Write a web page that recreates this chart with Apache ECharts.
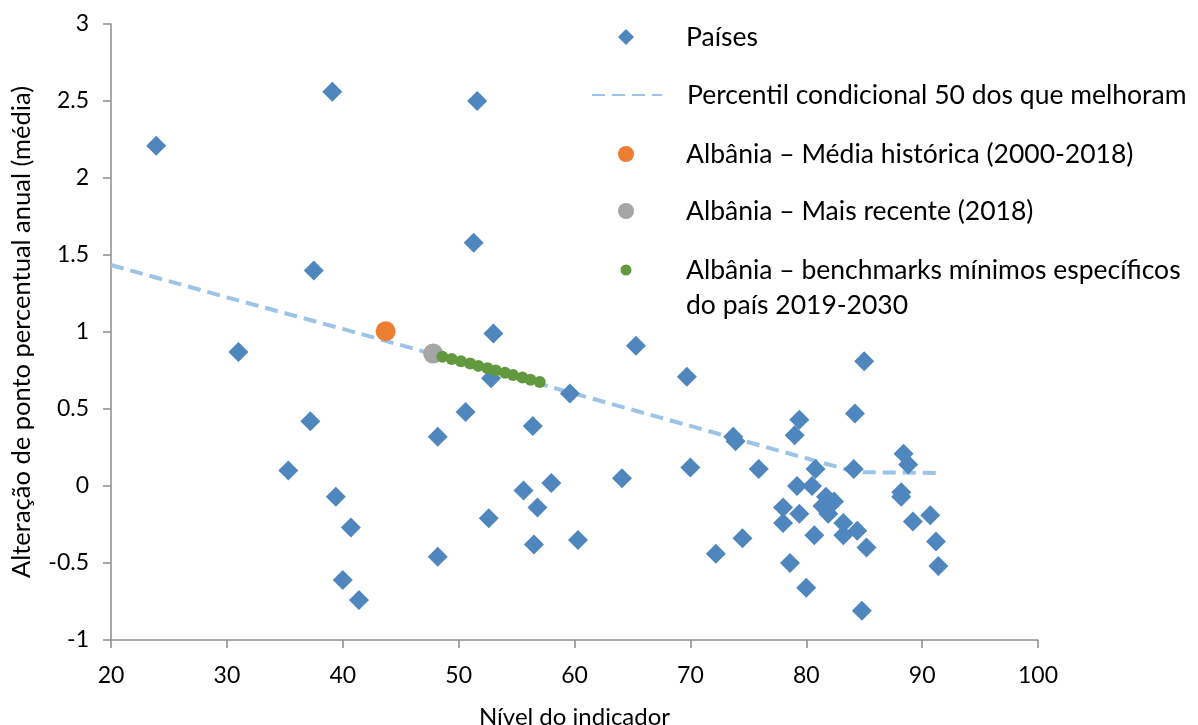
<!DOCTYPE html>
<html><head><meta charset="utf-8">
<script src="https://cdn.jsdelivr.net/npm/echarts@6/dist/echarts.min.js"></script>
<style>html,body{margin:0;padding:0;background:#fff}#c{width:1198px;height:725px}</style>
</head><body><div id="c"></div>
<script>
const paisesX = [23.9,39.1,51.6,51.3,37.5,31.0,53.0,65.3,52.8,59.6,69.7,50.6,56.4,37.2,48.2,35.3,39.4,70.0,64.1,58.0,55.6,40.7,52.6,56.8,56.5,60.3,48.2,40.0,41.4,73.7,73.9,85.0,84.2,79.4,79.0,75.9,80.8,84.1,88.4,88.8,79.2,80.5,81.7,82.4,81.4,81.9,88.2,88.2,78.0,78.0,79.4,83.2,83.2,84.4,85.2,80.7,90.7,89.2,91.2,91.4,74.5,72.2,78.6,80.0,84.8];
const paisesY = [2.21,2.56,2.50,1.58,1.40,0.87,0.99,0.91,0.70,0.60,0.71,0.48,0.39,0.42,0.32,0.10,-0.07,0.12,0.05,0.02,-0.03,-0.27,-0.21,-0.14,-0.38,-0.35,-0.46,-0.61,-0.74,0.32,0.29,0.81,0.47,0.43,0.33,0.11,0.11,0.11,0.21,0.14,0.00,0.00,-0.07,-0.10,-0.13,-0.18,-0.04,-0.07,-0.14,-0.24,-0.18,-0.24,-0.32,-0.29,-0.40,-0.32,-0.19,-0.23,-0.36,-0.52,-0.34,-0.44,-0.50,-0.66,-0.81];
const percentilX = [20,30,40,50,60,70,80,84.3,91.2];
const percentilY = [1.435,1.225,1.02,0.81,0.60,0.39,0.18,0.09,0.085];
const mediaHistX = [43.7];
const mediaHistY = [1.005];
const recenteX = [47.8];
const recenteY = [0.86];
const benchX = [48.6,49.4,50.2,51.0,51.7,52.5,53.2,54.0,54.7,55.5,56.2,57.0];
const benchY = [0.84,0.825,0.81,0.795,0.78,0.765,0.75,0.735,0.72,0.705,0.69,0.675];
const xTicks = [20,30,40,50,60,70,80,90,100];
const yTicks = [-1,-0.5,0,0.5,1,1.5,2,2.5,3];
const names = ['Países','Percentil condicional 50 dos que melhoram','Albânia – Média histórica (2000-2018)','Albânia – Mais recente (2018)','Albânia – benchmarks mínimos específicos do país 2019-2030'];
const legendLabels = ['Países','Percentil condicional 50 dos que melhoram','Albânia – Média histórica (2000-2018)','Albânia – Mais recente (2018)','\nAlbânia – benchmarks mínimos específicos\ndo país 2019-2030'];

const zip = (a,b) => a.map((v,i)=>[v,b[i]]);
const FONT = 'Lato';
const txt = {fontFamily: FONT, fontSize: 26.5, color: '#000'};

function legendItem(idx, left, top, w, h, padLeft, lh, extra) {
  return Object.assign({
    show: true, selectedMode: false, padding: 0,
    left: left, top: top, itemWidth: w, itemHeight: h,
    data: [names[idx]],
    formatter: () => legendLabels[idx],
    textStyle: Object.assign({}, txt, {lineHeight: lh, padding: [0,0,0,padLeft]})
  }, extra || {});
}

const chart = echarts.init(document.getElementById('c'));
chart.setOption({
  animation: false,
  backgroundColor: '#fff',
  grid: {left: 111, right: 160, top: 24, bottom: 85, containLabel: false, outerBoundsMode: 'none'},
  xAxis: {
    type: 'value', min: xTicks[0], max: xTicks[xTicks.length-1], interval: 10,
    name: 'Nível do indicador', nameLocation: 'middle', nameGap: 65,
    nameTextStyle: {fontFamily: FONT, fontSize: 24, color: '#000'},
    axisLine: {show: true, onZero: false, lineStyle: {color: '#8c8c8c', width: 1.5}},
    axisTick: {show: true, length: 8, lineStyle: {color: '#8c8c8c', width: 1.5}},
    axisLabel: {fontFamily: FONT, fontSize: 23, color: '#000', margin: 24},
    splitLine: {show: false}
  },
  yAxis: {
    type: 'value', min: yTicks[0], max: yTicks[yTicks.length-1], interval: 0.5,
    name: 'Alteração de ponto percentual anual (média)', nameLocation: 'middle', nameGap: 76,
    nameTextStyle: {fontFamily: FONT, fontSize: 25.5, color: '#000'},
    axisLine: {show: true, lineStyle: {color: '#8c8c8c', width: 1.5}},
    axisTick: {show: true, length: 8, lineStyle: {color: '#8c8c8c', width: 1.5}},
    axisLabel: {fontFamily: FONT, fontSize: 23, color: '#000', margin: 22},
    splitLine: {show: false}
  },
  legend: [
    legendItem(0, 618, 22, 16, 16, 47, 30),
    legendItem(1, 591, 80, 70, 14, 20, 30, {itemStyle: {opacity: 0}, lineStyle: {opacity: 1}}),
    legendItem(2, 618, 139, 16, 16, 47, 30),
    legendItem(3, 618, 196, 16, 16, 47, 30),
    legendItem(4, 620.5, 217.5, 11, 11, 49.5, 35)
  ],
  series: [
    {name: names[1], type: 'line', data: zip(percentilX, percentilY), symbol: 'none', showSymbol: false, z: 1,
     lineStyle: {color: '#9DC3E6', width: 4, type: [13, 7]}, itemStyle: {color: '#9DC3E6'}},
    {name: names[0], type: 'scatter', data: zip(paisesX, paisesY), symbol: 'diamond', symbolSize: 20, z: 2,
     itemStyle: {color: '#4F86BE', opacity: 1}},
    {name: names[2], type: 'scatter', data: zip(mediaHistX, mediaHistY), symbol: 'circle', symbolSize: 20, z: 3,
     itemStyle: {color: '#ED7D31', opacity: 1}},
    {name: names[3], type: 'scatter', data: zip(recenteX, recenteY), symbol: 'circle', symbolSize: 20, z: 3,
     itemStyle: {color: '#A5A5A5', opacity: 1}},
    {name: names[4], type: 'scatter', data: zip(benchX, benchY), symbol: 'circle', symbolSize: 12, z: 4,
     itemStyle: {color: '#62993E', opacity: 1}}
  ]
});
</script></body></html>
